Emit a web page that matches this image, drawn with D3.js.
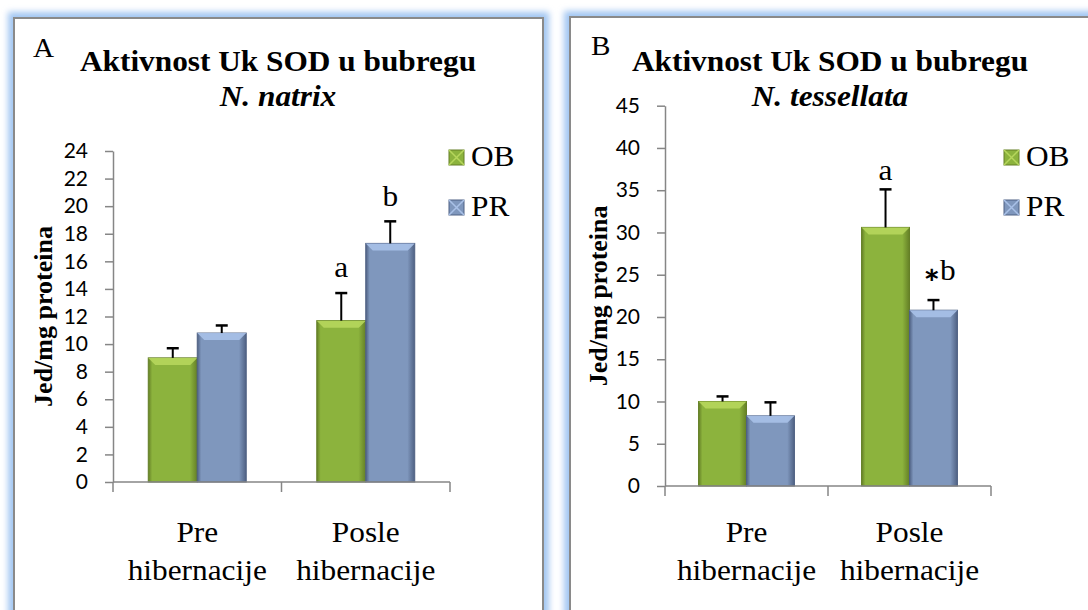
<!DOCTYPE html>
<html>
<head>
<meta charset="utf-8">
<script src="https://cdn.jsdelivr.net/npm/d3@7"></script>
<style>
  body { margin: 0; background: #fff; }
  svg { display: block; }
  .serif { font-family: 'Liberation Serif', 'Times New Roman', serif; }
  .sans { font-family: 'Lato', 'Open Sans', sans-serif; }
</style>
</head>
<body>
<div id="chart"></div>
<script>
// ---- data ----
const categories = ['Pre hibernacije', 'Posle hibernacije']
const seriesNames = ['OB', 'PR']

const natrixOB = [9.0, 11.7]
const natrixOBErr = [0.7, 2.0]
const natrixPR = [10.8, 17.3]
const natrixPRErr = [0.55, 1.6]
const natrixMarks = [['', ''], ['a', 'b']]
const natrixTicks = [0, 2, 4, 6, 8, 10, 12, 14, 16, 18, 20, 22, 24]

const tessOB = [10.0, 30.6]
const tessOBErr = [0.6, 4.5]
const tessPR = [8.3, 20.8]
const tessPRErr = [1.6, 1.2]
const tessMarks = [['', ''], ['a', '*b']]
const tessTicks = [0, 5, 10, 15, 20, 25, 30, 35, 40, 45]

const width = 1088
const height = 610
// the source image is a little wider than tall, so serif text gets stretched
const sx = 1.08

const colors = {
  OB: { main: '#8cb33d', dark: '#647f26', light: '#b6d65c' },
  PR: { main: '#7f97bd', dark: '#4f6183', light: '#a9c1e8' }
}

const svg = d3
  .select('#chart')
  .append('svg')
  .attr('width', width)
  .attr('height', height)

const defs = svg.append('defs')

const glow = defs
  .append('filter')
  .attr('id', 'glow')
  .attr('x', '-10%')
  .attr('y', '-10%')
  .attr('width', '120%')
  .attr('height', '120%')
glow.append('feGaussianBlur').attr('stdDeviation', 3)

seriesNames.forEach(s => {
  const g = defs
    .append('linearGradient')
    .attr('id', 'grad-' + s)
    .attr('x1', 0)
    .attr('x2', 1)
    .attr('y1', 0)
    .attr('y2', 0)
  g.append('stop').attr('offset', '0%').attr('stop-color', colors[s].dark)
  g.append('stop').attr('offset', '8%').attr('stop-color', colors[s].main)
  g.append('stop').attr('offset', '85%').attr('stop-color', colors[s].main)
  g.append('stop').attr('offset', '100%').attr('stop-color', colors[s].dark)
})

const panels = [
  {
    letter: 'A',
    species: 'N. natrix',
    frame: [14, 18],
    frameRight: 543,
    letterPos: [33, 57],
    titleX: 278,
    yDomain: [0, 24],
    yRange: [482, 151],
    xRange: [113, 450],
    padOuter: 0.72,
    ticks: natrixTicks,
    ob: natrixOB,
    obErr: natrixOBErr,
    pr: natrixPR,
    prErr: natrixPRErr,
    marks: natrixMarks,
    markLift: [[0, 0], [16, 15]],
    markDx: [[0, 0], [0, 0]],
    yLabelX: 52,
    legendX: 449
  },
  {
    letter: 'B',
    species: 'N. tessellata',
    frame: [570, 17],
    frameRight: 1200,
    letterPos: [591, 55],
    titleX: 830,
    yDomain: [0, 45],
    yRange: [486, 105.7],
    xRange: [665, 991],
    padOuter: 0.7,
    ticks: tessTicks,
    ob: tessOB,
    obErr: tessOBErr,
    pr: tessPR,
    prErr: tessPRErr,
    marks: tessMarks,
    markLift: [[0, 0], [9, 20]],
    markDx: [[0, 0], [0, 6]],
    yLabelX: 607,
    legendX: 1004
  }
]

// frames first (glow behind)
panels.forEach(p => {
  svg
    .append('rect')
    .attr('x', p.frame[0])
    .attr('y', p.frame[1])
    .attr('width', p.frameRight - p.frame[0])
    .attr('height', 700)
    .attr('fill', 'none')
    .attr('stroke', '#a2c6f2')
    .attr('stroke-width', 12)
    .attr('filter', 'url(#glow)')
})
panels.forEach(p => {
  svg
    .append('rect')
    .attr('x', p.frame[0])
    .attr('y', p.frame[1])
    .attr('width', p.frameRight - p.frame[0])
    .attr('height', 700)
    .attr('fill', '#fff')
    .attr('stroke', '#8a8a8a')
    .attr('stroke-width', 2)
})

panels.forEach(drawPanel)

// serif text placed at (x, y) and stretched horizontally
function stretched(parent, x, y) {
  return parent
    .append('g')
    .attr('transform', 'translate(' + x + ',' + y + ') scale(' + sx + ',1)')
    .append('text')
    .attr('class', 'serif')
}

function drawPanel(p) {
  const g = svg.append('g')

  const y = d3.scaleLinear().domain(p.yDomain).range(p.yRange)
  const x0 = d3.scaleBand().domain(categories).range(p.xRange).padding(0)
  const x1 = d3
    .scaleBand()
    .domain(seriesNames)
    .range([0, x0.bandwidth()])
    .paddingInner(0)
    .paddingOuter(p.padOuter)

  const rows = []
  categories.forEach((c, i) => {
    rows.push({ cat: c, i, s: 'OB', j: 0, v: p.ob[i], e: p.obErr[i], m: p.marks[i][0] })
    rows.push({ cat: c, i, s: 'PR', j: 1, v: p.pr[i], e: p.prErr[i], m: p.marks[i][1] })
  })

  // titles
  stretched(g, p.letterPos[0], p.letterPos[1])
    .style('font-size', '27px')
    .text(p.letter)

  stretched(g, p.titleX, 71)
    .attr('text-anchor', 'middle')
    .style('font-weight', 700)
    .style('font-size', '29px')
    .text('Aktivnost Uk SOD u bubregu')

  stretched(g, p.titleX, 106)
    .attr('text-anchor', 'middle')
    .style('font-weight', 700)
    .style('font-style', 'italic')
    .style('font-size', '29px')
    .text(p.species)

  // y axis label
  g.append('text')
    .attr('class', 'serif')
    .attr('transform', 'translate(' + p.yLabelX + ',' + (p.yRange[0] + p.yRange[1]) / 2 + ') rotate(-90)')
    .attr('text-anchor', 'middle')
    .style('font-weight', 700)
    .style('font-size', '26px')
    .text('Jed/mg proteina')

  // y axis
  const yAxis = g
    .append('g')
    .attr('transform', 'translate(' + p.xRange[0] + ',0)')
    .call(d3.axisLeft(y).tickValues(p.ticks).tickSize(8).tickPadding(17).tickSizeOuter(0))
  yAxis.attr('font-family', null)
  yAxis.select('.domain').attr('stroke', '#868686').attr('stroke-width', 1.5)
  yAxis.selectAll('.tick line').attr('stroke', '#868686').attr('stroke-width', 1.5)
  yAxis
    .selectAll('.tick text')
    .attr('class', 'sans')
    .style('font-size', '21px')
    .attr('fill', '#000')

  // bars
  const bars = g
    .selectAll('.bar')
    .data(rows)
    .enter()
    .append('g')
    .attr('class', 'bar')

  bars
    .append('rect')
    .attr('x', d => x0(d.cat) + x1(d.s))
    .attr('y', d => y(d.v))
    .attr('width', x1.bandwidth())
    .attr('height', d => y(0) - y(d.v))
    .attr('fill', d => 'url(#grad-' + d.s + ')')
    .attr('stroke', d => colors[d.s].dark)
    .attr('stroke-width', 1)

  // top bevel
  bars
    .append('path')
    .attr('d', d => {
      const xl = x0(d.cat) + x1(d.s)
      const xr = xl + x1.bandwidth()
      const yt = y(d.v)
      const b = 7
      return 'M' + xl + ',' + yt + 'L' + xr + ',' + yt + 'L' + (xr - b) + ',' + (yt + b) + 'L' + (xl + b) + ',' + (yt + b) + 'Z'
    })
    .attr('fill', d => colors[d.s].light)
    .attr('opacity', 0.9)

  // error bars (upper only)
  const errs = g.selectAll('.err').data(rows).enter().append('g').attr('class', 'err')
  errs
    .append('line')
    .attr('x1', d => x0(d.cat) + x1(d.s) + x1.bandwidth() / 2)
    .attr('x2', d => x0(d.cat) + x1(d.s) + x1.bandwidth() / 2)
    .attr('y1', d => y(d.v))
    .attr('y2', d => y(d.v + d.e))
    .attr('stroke', '#000')
    .attr('stroke-width', 2)
  errs
    .append('line')
    .attr('x1', d => x0(d.cat) + x1(d.s) + x1.bandwidth() / 2 - 6)
    .attr('x2', d => x0(d.cat) + x1(d.s) + x1.bandwidth() / 2 + 6)
    .attr('y1', d => y(d.v + d.e))
    .attr('y2', d => y(d.v + d.e))
    .attr('stroke', '#000')
    .attr('stroke-width', 2.5)

  // significance letters
  rows
    .filter(d => d.m !== '')
    .forEach(d => {
      const t = stretched(
        g,
        x0(d.cat) + x1(d.s) + x1.bandwidth() / 2 + p.markDx[d.i][d.j],
        y(d.v + d.e) - p.markLift[d.i][d.j]
      )
        .attr('text-anchor', 'middle')
        .style('font-size', '29px')
      if (d.m[0] === '*') {
        t.append('tspan')
          .attr('class', 'sans')
          .style('font-weight', 700)
          .style('font-size', '36px')
          .attr('dy', 16)
          .text('*')
        t.append('tspan').attr('dy', -16).text(d.m.slice(1))
      } else {
        t.text(d.m)
      }
    })

  // x axis
  g.append('line')
    .attr('x1', p.xRange[0])
    .attr('x2', p.xRange[1])
    .attr('y1', y(0))
    .attr('y2', y(0))
    .attr('stroke', '#868686')
    .attr('stroke-width', 1.5)

  const bounds = categories.map(c => x0(c)).concat([p.xRange[1]])
  g.selectAll('.xtick')
    .data(bounds)
    .enter()
    .append('line')
    .attr('x1', d => d)
    .attr('x2', d => d)
    .attr('y1', y(0))
    .attr('y2', y(0) + 10)
    .attr('stroke', '#868686')
    .attr('stroke-width', 1.5)

  categories.forEach(c => {
    const t = stretched(g, x0(c) + x0.bandwidth() / 2, 542)
      .attr('text-anchor', 'middle')
      .style('font-size', '29px')
    c.split(' ').forEach((w, k) => {
      t.append('tspan')
        .attr('x', 0)
        .attr('y', k * 38)
        .text(w)
    })
  })

  // legend
  const leg = g
    .selectAll('.leg')
    .data(seriesNames)
    .enter()
    .append('g')
    .attr('class', 'leg')
    .attr('transform', (d, k) => 'translate(' + p.legendX + ',' + (150 + k * 50) + ')')
  leg
    .append('rect')
    .attr('width', 15)
    .attr('height', 15)
    .attr('fill', d => colors[d].main)
    .attr('stroke', d => colors[d].dark)
    .attr('stroke-width', 1)
  leg
    .append('path')
    .attr('d', 'M0,0L7.5,7.5L15,0M0,15L7.5,7.5L15,15')
    .attr('fill', 'none')
    .attr('stroke', d => colors[d].light)
    .attr('stroke-width', 1.5)
  leg.each(function(d) {
    stretched(d3.select(this), 22, 16)
      .style('font-size', '29px')
      .text(d)
  })
}
</script>
</body>
</html>
